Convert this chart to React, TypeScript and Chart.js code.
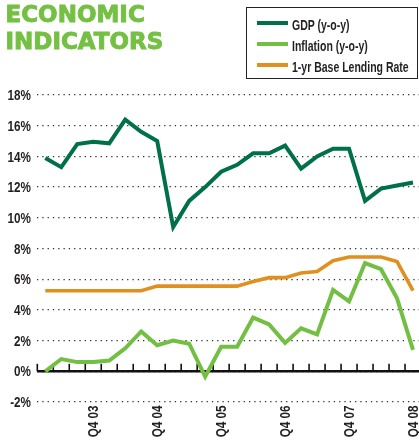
import { useEffect, useRef } from 'react';
import { Chart, registerables } from 'chart.js';

Chart.register(...registerables);

const quarters = [
  'Q1 03', 'Q2 03', 'Q3 03', 'Q4 03',
  'Q1 04', 'Q2 04', 'Q3 04', 'Q4 04',
  'Q1 05', 'Q2 05', 'Q3 05', 'Q4 05',
  'Q1 06', 'Q2 06', 'Q3 06', 'Q4 06',
  'Q1 07', 'Q2 07', 'Q3 07', 'Q4 07',
  'Q1 08', 'Q2 08', 'Q3 08', 'Q4 08',
];

const gdp = [
  13.9, 13.3, 14.8, 14.95, 14.85, 16.4, 15.6, 15.0,
  9.4, 11.1, 12.0, 13.0, 13.45, 14.2, 14.2, 14.7,
  13.2, 14.0, 14.5, 14.5, 11.1, 11.9, 12.1, 12.3,
];

const inflation = [
  0.0, 0.8, 0.6, 0.6, 0.7, 1.5, 2.6, 1.7,
  2.0, 1.8, -0.35, 1.6, 1.6, 3.5, 3.05, 1.85,
  2.8, 2.4, 5.3, 4.55, 7.05, 6.65, 4.75, 1.4,
];

const lendingRate = [
  5.25, 5.25, 5.25, 5.25, 5.25, 5.25, 5.25, 5.55,
  5.55, 5.55, 5.55, 5.55, 5.55, 5.85, 6.1, 6.1,
  6.4, 6.5, 7.2, 7.45, 7.45, 7.45, 7.15, 5.25,
];

const seriesNames = ['GDP (y-o-y)', 'Inflation (y-o-y)', '1-yr Base Lending Rate'];
const seriesColors = ['#00704a', '#72bf44', '#e0901e'];

const titleLines = ['ECONOMIC', 'INDICATORS'];
const titleColor = '#74c043';

const yMin = -2;
const yMax = 18;
const yStep = 2;

const labelFont = "bold 15px 'Liberation Sans', Arial, sans-serif";
const labelSquash = 0.78;
const textColor = '#231f20';

const zeroAxisPlugin = {
  id: 'zeroAxis',
  beforeDatasetsDraw(chart: any) {
    const { ctx, chartArea } = chart;
    const x = chart.scales.x;
    const y = chart.scales.y;
    const y0 = y.getPixelForValue(0);
    ctx.save();
    ctx.strokeStyle = '#111';
    ctx.lineWidth = 2.5;
    ctx.beginPath();
    ctx.moveTo(chartArea.left, y0);
    ctx.lineTo(chart.width, y0);
    ctx.stroke();
    ctx.lineWidth = 1.6;
    for (let i = 0; i < quarters.length; i++) {
      const px = x.getPixelForValue(i - 0.5);
      ctx.beginPath();
      ctx.moveTo(px, y0);
      ctx.lineTo(px, y0 - 7.5);
      ctx.stroke();
    }
    ctx.restore();
  },
};

const condensedLabelsPlugin = {
  id: 'condensedLabels',
  afterDraw(chart: any) {
    const { ctx, chartArea } = chart;
    const x = chart.scales.x;
    const y = chart.scales.y;
    ctx.save();
    ctx.font = labelFont;
    ctx.fillStyle = textColor;
    // y-axis labels
    ctx.textAlign = 'right';
    ctx.textBaseline = 'middle';
    y.ticks.forEach((t: any, i: number) => {
      const py = y.getPixelForTick(i);
      ctx.save();
      ctx.translate(chartArea.left - 6.3, py + 1);
      ctx.scale(labelSquash, 1);
      ctx.fillText(`${t.value}%`, 0, 0);
      ctx.restore();
    });
    // x-axis labels (rotated)
    quarters.forEach((q, i) => {
      if (!q.startsWith('Q4')) return;
      const px = x.getPixelForValue(i);
      ctx.save();
      ctx.translate(px + 0.5, chartArea.bottom + 3.5);
      ctx.rotate(-Math.PI / 2);
      ctx.scale(labelSquash, 1);
      ctx.textAlign = 'right';
      ctx.textBaseline = 'middle';
      ctx.fillText(q, 0, 0);
      ctx.restore();
    });
    ctx.restore();
  },
};

export default function App() {
  const canvasRef = useRef<HTMLCanvasElement | null>(null);

  useEffect(() => {
    const canvas = canvasRef.current;
    if (!canvas) return;
    const values = [gdp, inflation, lendingRate];
    const chart = new Chart(canvas, {
      type: 'line',
      data: {
        labels: quarters,
        datasets: values.map((v, i) => ({
          label: seriesNames[i],
          data: v,
          borderColor: seriesColors[i],
          backgroundColor: seriesColors[i],
          borderWidth: i === 2 ? 3.6 : 4,
          pointRadius: 0,
          tension: 0,
          borderJoinStyle: 'miter' as const,
          borderCapStyle: 'butt' as const,
        })),
      },
      options: {
        responsive: false,
        animation: false,
        devicePixelRatio: 1,
        layout: { padding: { top: 95, left: 0, right: 0, bottom: 0 } },
        plugins: {
          legend: { display: false },
          tooltip: { enabled: false },
          title: { display: false },
        },
        scales: {
          x: {
            type: 'category',
            offset: true,
            grid: { display: false, drawTicks: false, offset: true },
            border: { display: false },
            ticks: { display: false, autoSkip: false },
            afterFit: (scale: any) => {
              scale.height = 40;
            },
          },
          y: {
            min: yMin,
            max: yMax,
            grid: { color: '#333', lineWidth: 1.3, drawTicks: false },
            border: { display: false, dash: [1.3, 4] },
            ticks: { display: false, stepSize: yStep },
            afterFit: (scale: any) => {
              scale.width = 37.3;
            },
          },
        },
      },
      plugins: [zeroAxisPlugin, condensedLabelsPlugin],
    });
    return () => chart.destroy();
  }, []);

  const legendRows = [
    { line: 22.8, text: 17.2 },
    { line: 43.6, text: 37.8 },
    { line: 65.4, text: 58.8 },
  ];

  return (
    <div style={{ position: 'absolute', left: 0, top: 0, width: 419, height: 442, overflow: 'hidden', background: '#fff' }}>
      <canvas ref={canvasRef} width={421} height={442} style={{ position: 'absolute', left: 0, top: 0 }} />
      {titleLines.map((t, i) => (
        <div
          key={t}
          style={{
            position: 'absolute',
            left: 5.5,
            top: i === 0 ? 3.3 : 30,
            fontFamily: "'DejaVu Sans', sans-serif",
            fontWeight: 'bold',
            fontSize: 23,
            lineHeight: '23px',
            color: titleColor,
            WebkitTextStroke: `0.9px ${titleColor}`,
            whiteSpace: 'nowrap',
          }}
        >
          {t}
        </div>
      ))}
      <div
        style={{
          position: 'absolute',
          left: 246,
          top: 7,
          width: 172.3,
          height: 72.3,
          boxSizing: 'border-box',
          border: '1.5px solid #222',
        }}
      />
      {seriesNames.map((name, i) => (
        <div key={name}>
          <div
            style={{
              position: 'absolute',
              left: 257.3,
              top: legendRows[i].line - 2,
              width: 30.4,
              height: 4,
              background: seriesColors[i],
            }}
          />
          <div
            style={{
              position: 'absolute',
              left: 292.3,
              top: legendRows[i].text,
              fontFamily: "'Liberation Sans', Arial, sans-serif",
              fontWeight: 'bold',
              fontSize: 15,
              lineHeight: '15px',
              color: textColor,
              whiteSpace: 'nowrap',
              transform: 'scaleX(0.7)',
              transformOrigin: 'left center',
            }}
          >
            {name}
          </div>
        </div>
      ))}
    </div>
  );
}
